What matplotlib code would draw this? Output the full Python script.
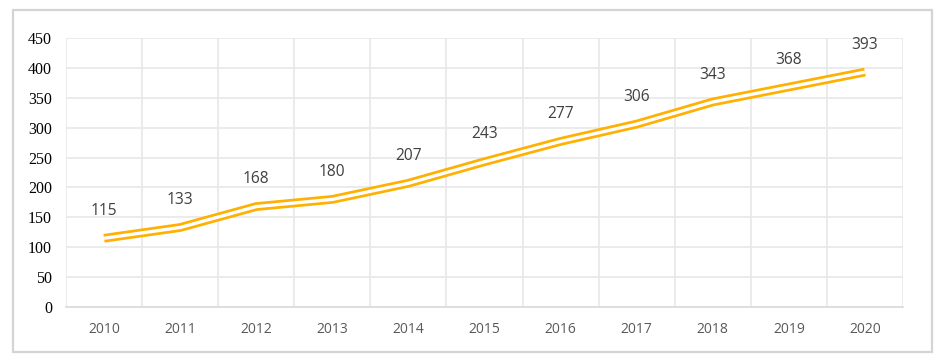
import matplotlib
matplotlib.use("Agg")
import matplotlib.pyplot as plt
from matplotlib.patches import Rectangle

years = ["2010", "2011", "2012", "2013", "2014", "2015", "2016", "2017", "2018", "2019", "2020"]
values = [115, 133, 168, 180, 207, 243, 277, 306, 343, 368, 393]
yticks = [0, 50, 100, 150, 200, 250, 300, 350, 400, 450]

W, H = 952, 363
fig = plt.figure(figsize=(W / 100, H / 100), dpi=100)
ax = fig.add_axes([66 / W, 1 - 307 / H, (903 - 66) / W, (307 - 38) / H])

x = list(range(len(years)))
orange = "#FFB000"
ax.plot(x, values, color=orange, lw=6.3, solid_capstyle="butt", solid_joinstyle="miter", zorder=3)
ax.plot(x, values, color="white", lw=2.4, solid_capstyle="butt", solid_joinstyle="miter", zorder=4)

for xi, v in zip(x, values):
    ax.annotate(str(v), (xi, v), xytext=(0, 14), textcoords="offset points",
                ha="center", va="bottom", fontsize=11.2, color="#404040",
                family="Open Sans")

ax.set_xlim(-0.5, len(years) - 0.5)
ax.set_ylim(0, 450)
ax.set_yticks(yticks)
ax.set_yticklabels([str(t) for t in yticks])
for t in ax.get_yticklabels():
    t.set_fontfamily(["Liberation Serif", "DejaVu Serif"])
    t.set_fontsize(11.5)
    t.set_color("#000000")
ax.set_xticks(x)
ax.set_xticklabels(years)
for t in ax.get_xticklabels():
    t.set_fontfamily(["Open Sans", "DejaVu Sans"])
    t.set_fontsize(10)
    t.set_color("#595959")
ax.set_xticks([i - 0.5 for i in range(len(years) + 1)], minor=True)
ax.tick_params(axis="both", which="both", length=0)
ax.tick_params(axis="x", pad=11)
ax.tick_params(axis="y", pad=10)
ax.grid(True, which="minor", axis="x", color="#e8e8e8", lw=1.2)
ax.grid(True, which="major", axis="y", color="#e8e8e8", lw=1.2)
ax.set_axisbelow(True)
for s in ["top", "right", "left"]:
    ax.spines[s].set_visible(False)
ax.spines["bottom"].set_color("#d9d9d9")
ax.spines["bottom"].set_linewidth(1.2)

fig.patches.append(Rectangle((13 / W, 1 - 352 / H), (932 - 13) / W, (352 - 10) / H,
                             transform=fig.transFigure, fill=False, edgecolor="#d4d4d4", lw=1.6))

fig.savefig("out.png", dpi=100)
